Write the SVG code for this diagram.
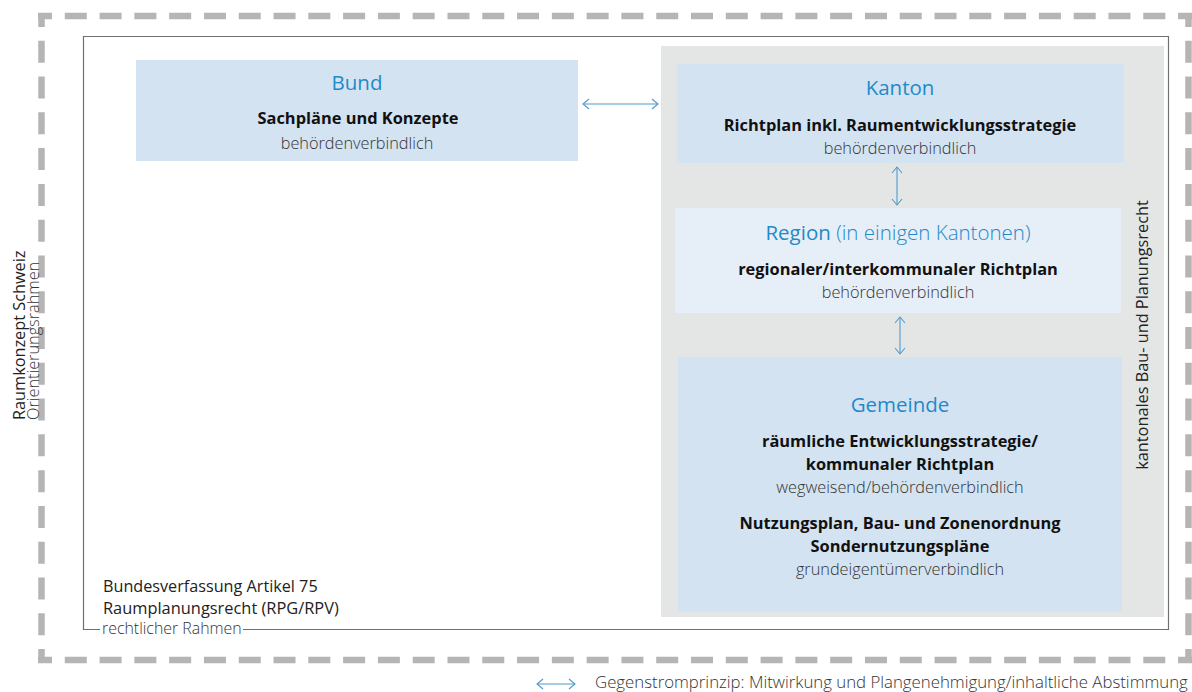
<svg xmlns="http://www.w3.org/2000/svg" width="1192" height="692" viewBox="0 0 1192 692">
<defs>
<style>
text{font-family:"Open Sans","Noto Sans","Liberation Sans",sans-serif}
.dash{fill:none;stroke:#b5b5b5;stroke-width:6.5}
.legal{fill:none;stroke:#707070;stroke-width:1.2}
.panel{fill:#e4e6e6}
.box{fill:#d4e3f1}
.boxl{fill:#e6eef7}
.title{font-size:20.5px;fill:#1f8ac9;text-anchor:middle}
.tl{font-weight:300}
.b{font-size:16.4px;font-weight:700;fill:#111;text-anchor:middle}
.l{font-size:16.3px;font-weight:300;fill:#333;text-anchor:middle}
.side{font-size:16.3px;fill:#222}
.sidel{font-size:16.3px;font-weight:300;fill:#333}
.conn{stroke:#5199cc;stroke-width:1.1;fill:none;marker-start:url(#ah);marker-end:url(#ah)}
</style>
<marker id="ah" viewBox="0 0 8 12" refX="7" refY="6" markerWidth="8" markerHeight="12" orient="auto-start-reverse" markerUnits="userSpaceOnUse">
<path d="M1,1 L7,6 L1,11" fill="none" stroke="#5199cc" stroke-width="1.1"/>
</marker>
</defs>
<rect width="1192" height="692" fill="#fff"/>

<g id="frame-raumkonzept">
<path class="dash" d="M38 16 H1192" stroke-dasharray="22 12.79" stroke-dashoffset="8"/>
<path class="dash" d="M38 660 H1192" stroke-dasharray="22 12.79" stroke-dashoffset="8"/>
<path class="dash" d="M41.5 13 V663" stroke-dasharray="22 13.78" stroke-dashoffset="8"/>
<path class="dash" d="M1188.5 13 V663" stroke-dasharray="22 13.78" stroke-dashoffset="8"/>
<text class="side" transform="translate(25,420) rotate(-90)">Raumkonzept Schweiz</text>
<text class="sidel" transform="translate(39,420) rotate(-90)">Orientierungsrahmen</text>
</g>

<g id="frame-legal">
<path class="legal" d="M100 629.5 H83.5 V36.5 H1168.5 V629.5 H243"/>
<text x="103" y="592" font-size="16.2" fill="#222">Bundesverfassung Artikel 75</text>
<text x="103" y="614" font-size="16.4" fill="#222">Raumplanungsrecht (RPG/RPV)</text>
<text x="102" y="634" font-size="15.9" font-weight="300" fill="#333">rechtlicher Rahmen</text>
</g>

<g id="kantonales-recht">
<rect class="panel" x="661" y="46" width="503" height="571"/>
<text class="side" transform="translate(1148,335) rotate(-90)" text-anchor="middle" font-size="16.7">kantonales Bau- und Planungsrecht</text>
</g>

<g id="bund">
<rect class="box" x="136" y="60" width="442" height="101"/>
<text class="title" x="357" y="90">Bund</text>
<text class="b" x="358" y="124">Sachpläne und Konzepte</text>
<text class="l" x="357" y="149">behördenverbindlich</text>
</g>

<g id="kanton">
<rect class="box" x="677" y="64" width="447" height="99"/>
<text class="title" x="900" y="95">Kanton</text>
<text class="b" x="900" y="131">Richtplan inkl. Raumentwicklungsstrategie</text>
<text class="l" x="900" y="154">behördenverbindlich</text>
</g>

<g id="region">
<rect class="boxl" x="675" y="208" width="446" height="105"/>
<text class="title" x="898" y="240">Region <tspan class="tl">(in einigen Kantonen)</tspan></text>
<text class="b" x="898" y="275">regionaler/interkommunaler Richtplan</text>
<text class="l" x="898" y="298">behördenverbindlich</text>
</g>

<g id="gemeinde">
<rect class="box" x="678" y="357" width="444" height="255"/>
<text class="title" x="900" y="412">Gemeinde</text>
<text class="b" x="900" y="447">räumliche Entwicklungsstrategie/</text>
<text class="b" x="900" y="470">kommunaler Richtplan</text>
<text class="l" x="900" y="493">wegweisend/behördenverbindlich</text>
<text class="b" x="900" y="529">Nutzungsplan, Bau- und Zonenordnung</text>
<text class="b" x="900" y="552">Sondernutzungspläne</text>
<text class="l" x="900" y="575">grundeigentümerverbindlich</text>
</g>

<g id="connectors">
<path class="conn" d="M583 104 H658"/>
<path class="conn" d="M897 167 V205"/>
<path class="conn" d="M900 317 V354"/>
</g>

<g id="legend">
<path class="conn" d="M537 684 H575"/>
<text x="595" y="688" font-size="16.8" font-weight="300" fill="#333">Gegenstromprinzip: Mitwirkung und Plangenehmigung/inhaltliche Abstimmung</text>
</g>
</svg>
